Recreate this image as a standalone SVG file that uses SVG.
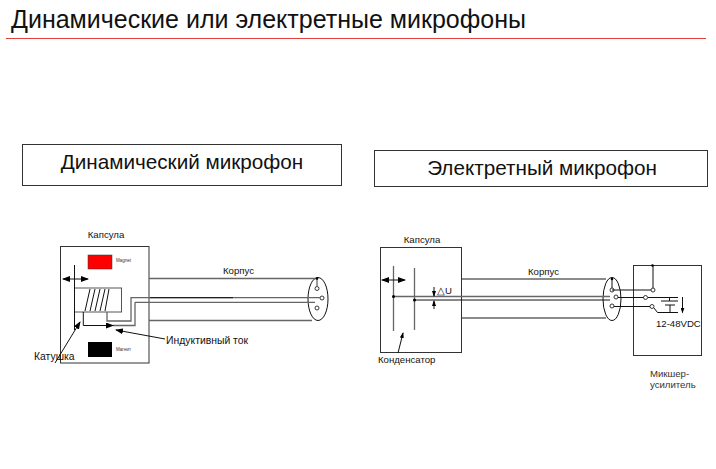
<svg xmlns="http://www.w3.org/2000/svg" width="716" height="469" viewBox="0 0 716 469">
<defs>
<marker id="a" markerWidth="8" markerHeight="6" refX="7" refY="3" orient="auto-start-reverse" markerUnits="userSpaceOnUse"><path d="M0 0L8 3L0 6Z" fill="#000"/></marker>
<marker id="n" markerWidth="6" markerHeight="4" refX="5" refY="2" orient="auto-start-reverse" markerUnits="userSpaceOnUse"><path d="M0 0L6 2L0 4Z" fill="#000"/></marker>
</defs>
<style>
text{font-family:"Liberation Sans",Arial,sans-serif;fill:#111}
.b{fill:none;stroke:#333;stroke-width:1}
.g{fill:none;stroke:#666;stroke-width:1.3}
.k{fill:none;stroke:#111;stroke-width:1}
.o{fill:#fff;stroke:#222;stroke-width:.9}
.t{font-size:9.600px}
.l{font-size:10.400px}
.m{font-size:4.500px;fill:#333}
</style>
<rect width="716" height="469" fill="#fff"/>
<g id="title"><text x="11" y="28" font-size="25" fill="#222">Динамические или электретные микрофоны</text><path d="M6 38.500H706" stroke="#e2403a" stroke-width="1"/></g>
<g id="dynamic-header"><rect x="22.500" y="144.500" width="319" height="41" class="b" style="fill:#fff"/><text x="182" y="169" font-size="20.700" text-anchor="middle">Динамический микрофон</text></g>
<g id="electret-header"><rect x="374.500" y="150.500" width="333" height="36" class="b" style="fill:#fff"/><text x="542" y="175" font-size="20.700" text-anchor="middle">Электретный микрофон</text></g>
<g id="capsule-left"><rect x="60.500" y="246.500" width="88.500" height="116.500" class="b"/><text x="106" y="238" class="t" text-anchor="middle">Капсула</text></g>
<g id="magnet-red"><rect x="88" y="255" width="24" height="14" fill="#f00" stroke="#333" stroke-width=".5"/><text x="116" y="262" class="m">Magnet</text></g>
<g id="magnet-black"><rect x="88" y="342" width="24" height="15" fill="#000"/><text x="116" y="351" class="m">Магнит</text></g>
<g id="coil"><rect x="74.500" y="288" width="47" height="24" class="b" style="stroke:#555"/><path d="M85 311L90 289M90 311L95 289M95 311L100 289M100 311L105 289M105 311L109 289" class="k"/><path d="M74.500 265V330" class="k" stroke-width="1.200"/></g>
<g id="cable-left"><ellipse cx="318" cy="299" rx="10" ry="21.500" class="k"/><circle cx="317" cy="288.500" r="2" class="o"/><circle cx="322" cy="298" r="2" class="o"/><circle cx="317" cy="308" r="2" class="o"/></g>
<g id="capsule-right"><rect x="380.500" y="247.500" width="81" height="105" class="b"/><text x="422" y="243" class="t" text-anchor="middle">Капсула</text></g>
<g id="mixer"><rect x="633.500" y="265.500" width="68" height="90" class="b"/><text x="650" y="377" class="t" style="fill:#333">Микшер-</text><text x="650" y="388" class="t" style="fill:#333">усилитель</text><text x="656" y="327" class="t">12-48VDC</text></g>
<g id="cable-right"><ellipse cx="612" cy="299" rx="9" ry="21.500" class="k"/><circle cx="612" cy="290" r="2" class="o"/><circle cx="616" cy="297" r="2" class="o"/><circle cx="612" cy="306" r="2" class="o"/></g>
<g id="connectors">
<path d="M149 278.500H317V286.500" class="g"/><circle cx="317" cy="278.500" r="1.300"/>
<path d="M149 320.500H312" class="g"/>
<path d="M107 312V321H131V297.700H320" class="g"/>
<path d="M135 302.300H315" class="g"/>
<path d="M233 297.700H150" class="k"/>
<path d="M113 325.500H135V302.300" class="g"/>
<path d="M83.300 312V325.500H113" class="k" marker-end="url(#a)"/>
<path d="M63 279H88" class="k" marker-start="url(#a)" marker-end="url(#a)"/>
<path d="M55 363L80 322" class="k" marker-end="url(#a)"/>
<path d="M165 339L116 330" class="k" marker-end="url(#a)"/>
<path d="M462 279H606M462 318H606" class="g"/>
<path d="M393.500 266V331M414.500 268V330" class="g"/>
<path d="M393.500 296.500H610" class="g"/>
<path d="M414.500 300H610" class="k"/>
<circle cx="393.500" cy="296.500" r="1.500"/><circle cx="414.500" cy="300" r="1.500"/>
<path d="M382 280H405" class="k" marker-start="url(#a)" marker-end="url(#a)"/>
<path d="M434 287V296" class="k" marker-end="url(#n)"/>
<path d="M434 309V301" class="k" marker-end="url(#n)"/>
<path d="M398 353L403 333" class="k" marker-end="url(#n)"/>
<path d="M612 279V288M612 290H651M653 288V266M618 297.500H644M614 306.500H650" class="k"/><circle cx="612" cy="279" r="1.300"/><circle cx="652.500" cy="265.500" r="1.300"/>
<circle cx="653" cy="290" r="2" class="o"/><circle cx="645.500" cy="297.500" r="2" class="o"/><circle cx="652" cy="306.500" r="2" class="o"/>
<path d="M648 297.500H678M654 308L657.500 312.500H678M669.500 297.500V301M661 301H678M665 305H675M670 305V312.500" class="k"/>
<path d="M682.500 297V312.500" class="k" marker-end="url(#n)"/>
</g>
<g id="labels">
<text x="223" y="274" class="t">Корпус</text>
<text x="166" y="344" class="l">Индуктивный ток</text>
<text x="34" y="360" class="l">Катушка</text>
<text x="528" y="275" class="t">Корпус</text>
<text x="378" y="363" class="t">Конденсатор</text>
<text x="437" y="294" class="t">△U</text>
</g>
</svg>
